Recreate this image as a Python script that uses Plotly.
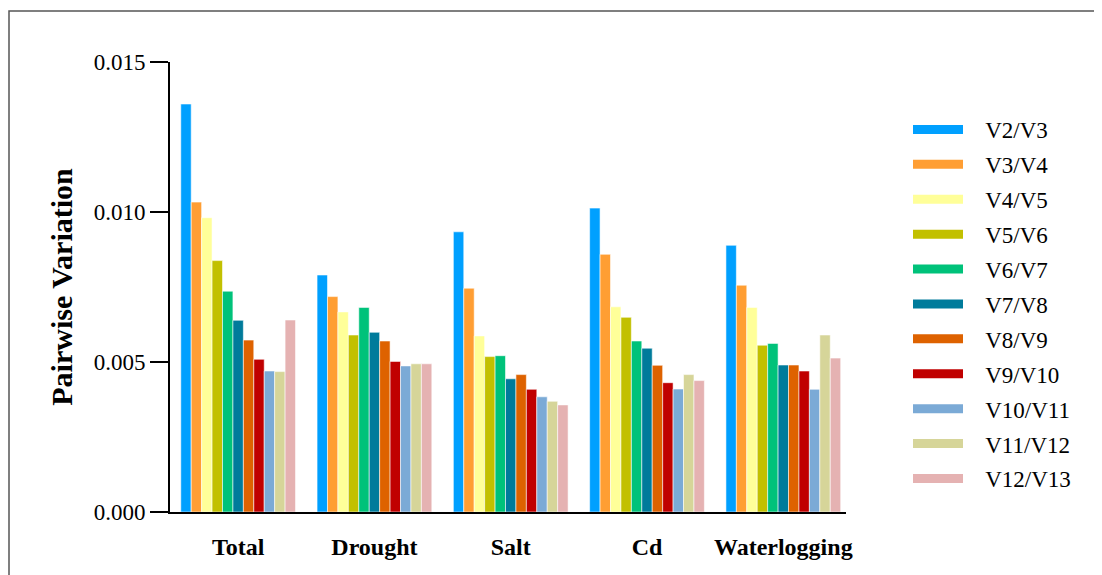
import plotly.graph_objects as go

categories = ["Total", "Drought", "Salt", "Cd", "Waterlogging"]
series_names = ["V2/V3", "V3/V4", "V4/V5", "V5/V6", "V6/V7", "V7/V8",
                "V8/V9", "V9/V10", "V10/V11", "V11/V12", "V12/V13"]
colors = ["#00A0FF", "#FF9E33", "#FFFF99", "#C2C000", "#00C27A", "#007B9B",
          "#DE6200", "#C00000", "#7BAAD6", "#D6D599", "#E5B2B2"]

# values per series across [Total, Drought, Salt, Cd, Waterlogging]
v2_v3 = [0.01360, 0.00790, 0.00934, 0.01013, 0.00889]
v3_v4 = [0.01033, 0.00718, 0.00746, 0.00859, 0.00756]
v4_v5 = [0.00981, 0.00667, 0.00587, 0.00684, 0.00682]
v5_v6 = [0.00838, 0.00590, 0.00518, 0.00649, 0.00556]
v6_v7 = [0.00736, 0.00682, 0.00521, 0.00570, 0.00562]
v7_v8 = [0.00639, 0.00599, 0.00444, 0.00546, 0.00490]
v8_v9 = [0.00573, 0.00570, 0.00458, 0.00489, 0.00490]
v9_v10 = [0.00509, 0.00502, 0.00409, 0.00431, 0.00470]
v10_v11 = [0.00470, 0.00487, 0.00384, 0.00410, 0.00409]
v11_v12 = [0.00468, 0.00494, 0.00369, 0.00458, 0.00590]
v12_v13 = [0.00640, 0.00494, 0.00357, 0.00438, 0.00513]

series_values = [v2_v3, v3_v4, v4_v5, v5_v6, v6_v7, v7_v8,
                 v8_v9, v9_v10, v10_v11, v11_v12, v12_v13]

y_ticks = [0.000, 0.005, 0.010, 0.015]
y_tick_labels = ["0.000", "0.005", "0.010", "0.015"]

FONT = "Liberation Serif, Times New Roman, serif"

fig = go.Figure()
for name, vals, col in zip(series_names, series_values, colors):
    fig.add_trace(go.Bar(
        x=categories, y=vals, name=name, showlegend=False,
        marker=dict(color=col, line=dict(color="rgba(255,255,255,0.7)", width=0.8)),
    ))
# legend entries (wide swatches)
for i, (name, col) in enumerate(zip(series_names, colors)):
    fig.add_trace(go.Scatter(
        x=[None], y=[None], mode="lines", name="\u00a0\u00a0\u00a0" + name,
        legendgroup="g%d" % i,
        line=dict(color=col, width=9), showlegend=True,
    ))

# page body has an 8px margin; figure is sized to fit the window
W, H = 1094, 567
L, R, T, B = 162, 256, 54, 63
pw = W - L - R
ph = H - T - B

fig.update_layout(
    width=W, height=H,
    margin=dict(l=L, r=R, t=T, b=B),
    barmode="group", bargap=0.158, bargroupgap=0,
    plot_bgcolor="white", paper_bgcolor="white",
    font=dict(family=FONT, color="black"),
    showlegend=True,
    legend=dict(
        x=(900 - L) / pw, xanchor="left",
        y=(H - B - 100) / ph, yanchor="top",
        font=dict(size=23, family=FONT, color="black"),
        itemwidth=50, tracegroupgap=2,
        bgcolor="rgba(0,0,0,0)",
    ),
    xaxis=dict(
        range=[-0.5, 4.46], showline=True, linecolor="black", linewidth=2,
        ticks="outside", ticklen=0, tickcolor="rgba(0,0,0,0)",
        tickfont=dict(size=24, family=FONT, color="black", weight="bold"),
        ticklabelstandoff=12,
        showgrid=False, zeroline=False, fixedrange=True,
    ),
    yaxis=dict(
        range=[0, 0.015], showline=True, linecolor="black", linewidth=2,
        ticks="outside", ticklen=18, tickwidth=2, tickcolor="black",
        tickvals=y_ticks, ticktext=y_tick_labels,
        tickfont=dict(size=23, family=FONT, color="black"),
        title=dict(text="<b>Pairwise Variation</b>",
                   font=dict(size=30, family=FONT, color="black"), standoff=12),
        showgrid=False, zeroline=False, fixedrange=True,
    ),
    shapes=[dict(
        type="rect", xref="paper", yref="paper",
        x0=(1 - L) / pw, x1=(W + 20 - L) / pw,
        y0=(H - B - (H + 20)) / ph, y1=(H - B - 3) / ph,
        line=dict(color="#555555", width=1.5), fillcolor="rgba(0,0,0,0)",
        layer="below",
    )],
)

fig.write_html("out.html")
